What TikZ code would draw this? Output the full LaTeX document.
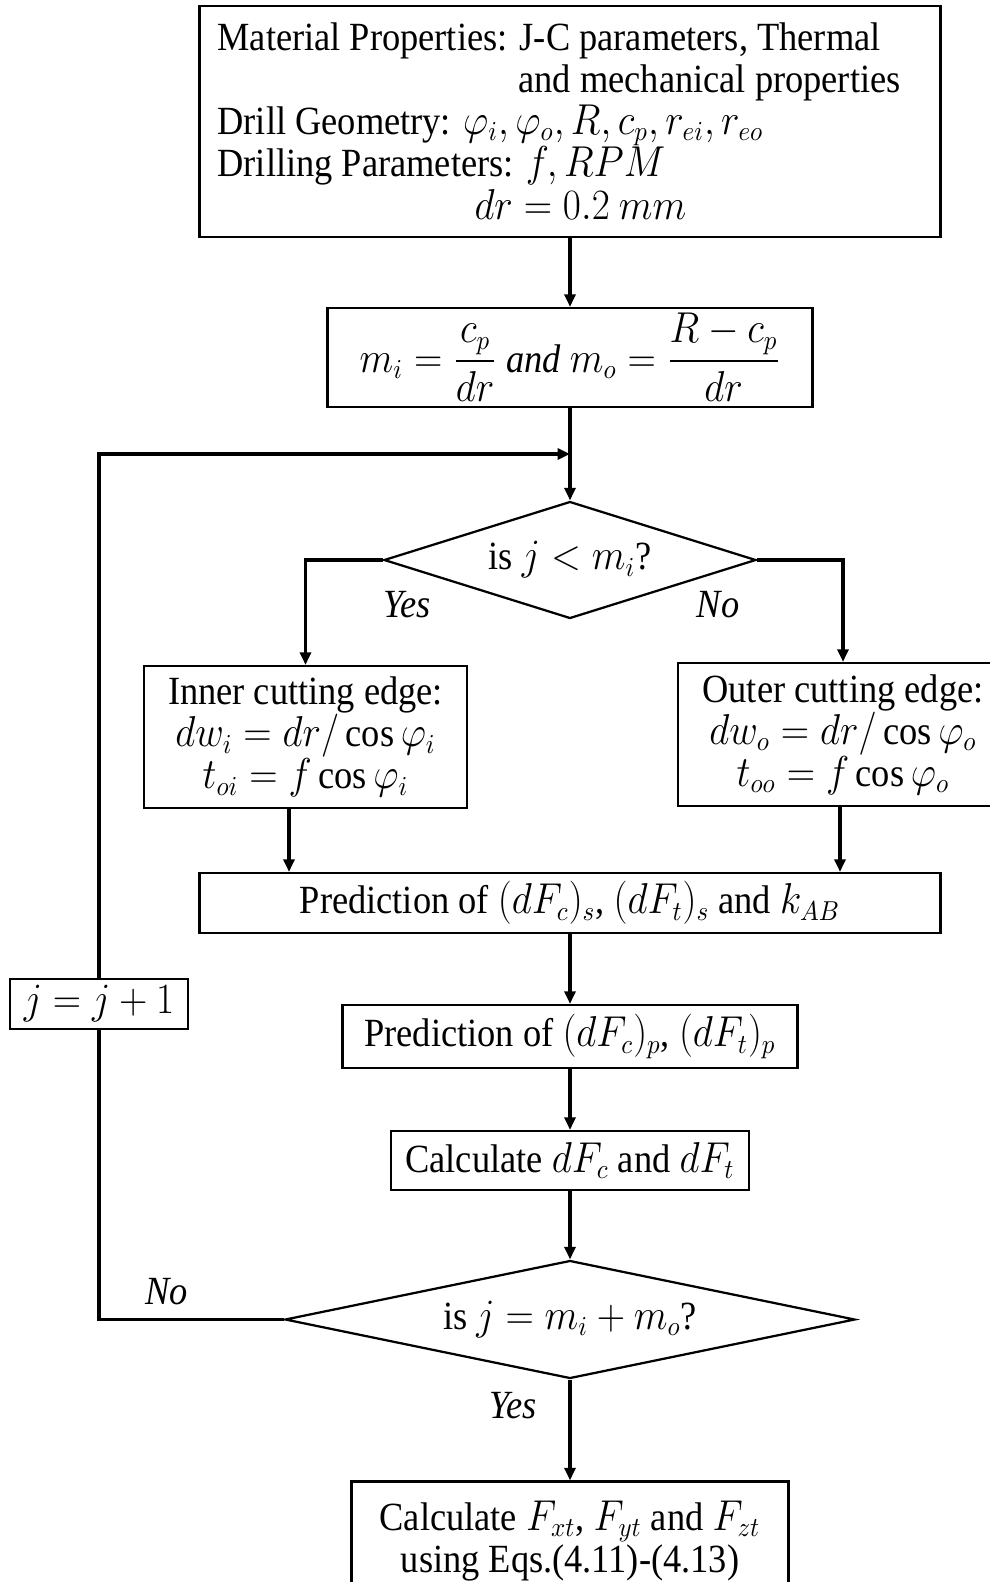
\documentclass[tikz,border=0pt]{standalone}
\usepackage{amsmath}
\usepackage{fontspec}
\setmainfont{Liberation Serif}
\usetikzlibrary{shapes.geometric,arrows.meta}
\newcommand{\sq}[1]{\scalebox{0.91}[1]{#1}}
\begin{document}
\begin{tikzpicture}[x=0.4pt,y=-0.4pt,
  box/.style={draw,line width=0.9pt,inner sep=0pt,align=center,font=\fontsize{16}{16.8}\selectfont},
  dec/.style={diamond,draw,line width=0.9pt,inner sep=0pt,font=\fontsize{16}{16.8}\selectfont},
  conn/.style={line width=1.3pt},
  arr/.style={conn,-{Triangle[length=5pt,width=4.4pt]}},
  lbl/.style={inner sep=0pt,font=\fontsize{16}{16.8}\selectfont\itshape},
  txt/.style={inner sep=0pt,anchor=base west,text height=11pt,text depth=2pt,font=\fontsize{16}{16.8}\selectfont}]
\useasboundingbox (0,0) rectangle (990,1582);

% top box
\node[box,minimum width=296.4pt,minimum height=92.4pt] (top) at (570,121.5) {};
\node[txt] (t1) at (217,50) {\sq{Material Properties: J-C parameters, Thermal}};
\node[txt] (t2) at (518,92) {\sq{and mechanical properties}};
\node[txt] (t3) at (217,134) {\sq{Drill Geometry: $\varphi_i, \varphi_o, R, c_p, r_{ei}, r_{eo}$}};
\node[txt] (t4) at (217,176) {\sq{Drilling Parameters: $f, RPM$}};
\node[txt] (t5) at (474,219) {\sq{$dr = 0.2\ mm$}};

\node[box,minimum width=194pt,minimum height=39.6pt] (box2) at (570,357.5)
  {\sq{$m_i = \dfrac{c_p}{dr}\ \mathit{and}\ m_o = \dfrac{R-c_p}{dr}$}};

\coordinate (merge) at (570,454);

\node[dec,aspect=3.18,minimum width=148.8pt,minimum height=46.8pt] (d1) at (570,560) {\sq{is $j < m_i$?}};
\node[lbl] (yes1) at (407,605) {\sq{Yes}};
\node[lbl] (no1) at (718,605) {\sq{No}};

\node[box,minimum width=129.2pt,minimum height=56.8pt] (inner) at (305.5,737)
  {\sq{Inner cutting edge:}\\ \sq{$dw_i = dr/\cos\varphi_i$}\\ \sq{$t_{oi} = f\cos\varphi_i$}};
\node[box,minimum width=132pt,minimum height=57.2pt] (outer) at (843,734.5)
  {\sq{Outer cutting edge:}\\ \sq{$dw_o = dr/\cos\varphi_o$}\\ \sq{$t_{oo} = f\cos\varphi_o$}};

\node[box,minimum width=296.4pt,minimum height=24pt] (pred1) at (570,903)
  {\sq{Prediction of $(dF_c)_s$, $(dF_t)_s$ and $k_{AB}$}};
\node[box,minimum width=182pt,minimum height=25.2pt] (pred2) at (570,1036.5)
  {\sq{Prediction of $(dF_c)_p$, $(dF_t)_p$}};
\node[box,minimum width=143.2pt,minimum height=23.6pt] (calc) at (570,1160.5)
  {\sq{Calculate $dF_c$ and $dF_t$}};

\node[dec,aspect=4.83,minimum width=228pt,minimum height=47.2pt] (d2) at (570,1319.5) {\sq{is $j = m_i + m_o$?}};
\node[lbl] (no2) at (166.5,1292) {\sq{No}};
\node[lbl] (yes2) at (512.7,1406) {\sq{Yes}};

\node[box,minimum width=71.2pt,minimum height=20pt] (jbox) at (99,1004) {\sq{$j = j + 1$}};

\node[box,minimum width=174.8pt,minimum height=47.4pt] (final) at (570,1540.75)
  {\sq{Calculate $F_{xt}$, $F_{yt}$ and $F_{zt}$}\\ \sq{using Eqs.(4.11)-(4.13)}};

% connectors
\coordinate (cin) at (289,0);
\coordinate (cout) at (840,0);
\draw[arr] (top.south) -- (box2.north);
\draw[arr] (box2.south) -- (d1.north);
\draw[arr] (d1.west) -| (inner.north);
\draw[arr] (d1.east) -| (outer.north);
\draw[arr] (inner.south -| cin) -- (pred1.north -| cin);
\draw[arr] (outer.south -| cout) -- (pred1.north -| cout);
\draw[arr] (pred1.south) -- (pred2.north);
\draw[arr] (pred2.south) -- (calc.north);
\draw[arr] (calc.south) -- (d2.north);
\draw[arr] (d2.south) -- (final.north);
\draw[conn] (d2.west) -| (jbox.south);
\draw[arr] (jbox.north) |- (merge);
\end{tikzpicture}
\end{document}
